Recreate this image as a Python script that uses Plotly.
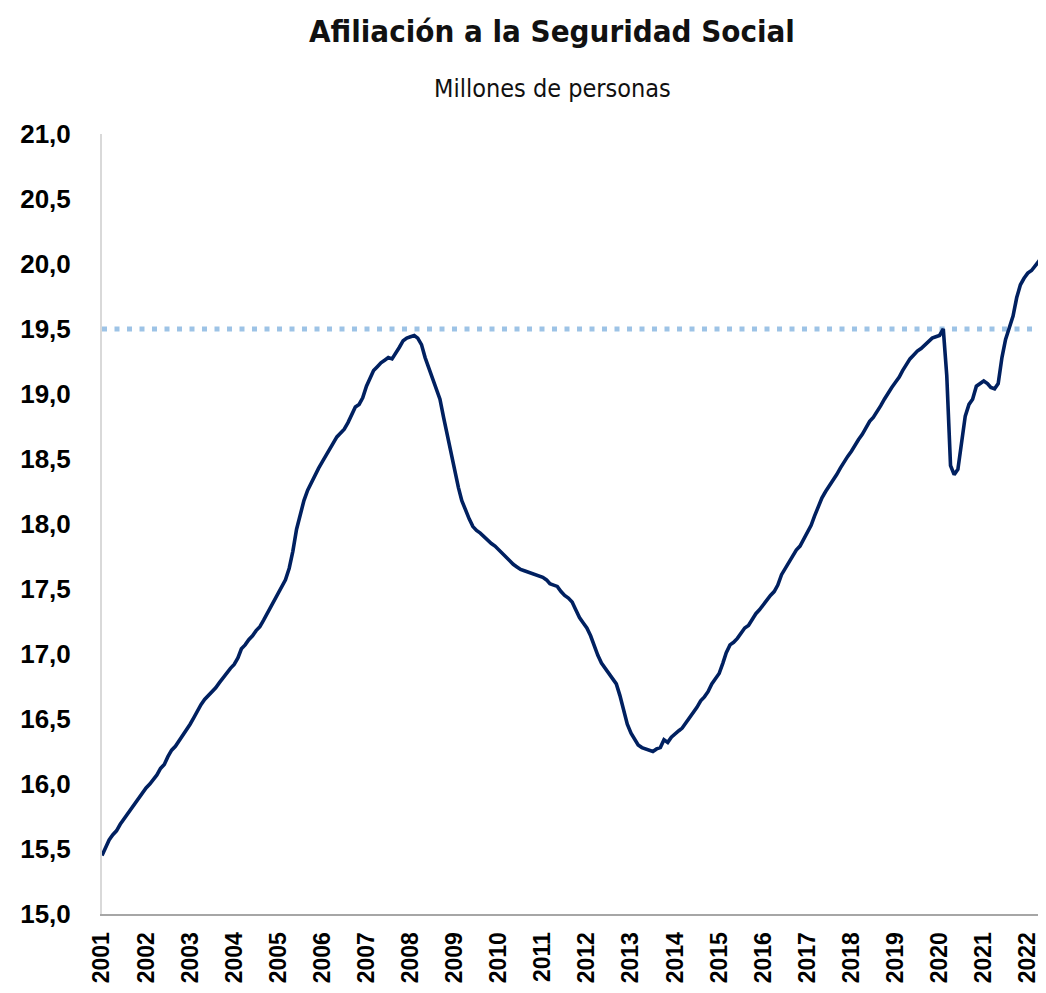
import pandas as pd
import plotly.graph_objects as go

# Monthly values (millions of people), Jan 2001 .. Jun 2022
y2001 = [15.45, 15.51, 15.57, 15.61, 15.64, 15.69, 15.73, 15.77, 15.81, 15.85, 15.90, 15.94]
y2002 = [15.97, 16.00, 16.03, 16.07, 16.12, 16.15, 16.21, 16.26, 16.29, 16.33, 16.37, 16.41]
y2003 = [16.46, 16.51, 16.56, 16.61, 16.65, 16.68, 16.71, 16.74, 16.78, 16.82, 16.85, 16.89]
y2004 = [16.92, 16.97, 17.04, 17.07, 17.11, 17.14, 17.18, 17.21, 17.26, 17.31, 17.36, 17.42]
y2005 = [17.47, 17.52, 17.57, 17.66, 17.79, 17.96, 18.08, 18.18, 18.26, 18.32, 18.38, 18.43]
y2006 = [18.48, 18.53, 18.58, 18.62, 18.67, 18.70, 18.73, 18.78, 18.85, 18.90, 18.92, 18.97]
y2007 = [19.06, 19.12, 19.18, 19.21, 19.24, 19.26, 19.28, 19.27, 19.31, 19.36, 19.41, 19.43]
y2008 = [19.44, 19.45, 19.43, 19.38, 19.28, 19.20, 19.13, 19.06, 18.96, 18.82, 18.68, 18.55]
y2009 = [18.40, 18.28, 18.18, 18.10, 18.04, 17.98, 17.95, 17.93, 17.90, 17.87, 17.85, 17.83]
y2010 = [17.80, 17.77, 17.74, 17.71, 17.69, 17.67, 17.65, 17.64, 17.63, 17.62, 17.61, 17.60]
y2011 = [17.59, 17.57, 17.54, 17.53, 17.52, 17.48, 17.45, 17.43, 17.40, 17.34, 17.28, 17.24]
y2012 = [17.20, 17.14, 17.06, 16.99, 16.93, 16.89, 16.86, 16.82, 16.77, 16.68, 16.58, 16.46]
y2013 = [16.39, 16.34, 16.30, 16.28, 16.27, 16.26, 16.25, 16.27, 16.28, 16.34, 16.32, 16.36]
y2014 = [16.39, 16.41, 16.43, 16.47, 16.51, 16.55, 16.59, 16.64, 16.67, 16.71, 16.77, 16.81]
y2015 = [16.85, 16.93, 17.01, 17.07, 17.09, 17.12, 17.16, 17.20, 17.22, 17.27, 17.31, 17.34]
y2016 = [17.38, 17.41, 17.45, 17.48, 17.53, 17.61, 17.66, 17.70, 17.75, 17.80, 17.83, 17.88]
y2017 = [17.93, 17.99, 18.06, 18.14, 18.20, 18.25, 18.29, 18.33, 18.38, 18.43, 18.48, 18.52]
y2018 = [18.56, 18.61, 18.65, 18.69, 18.74, 18.79, 18.82, 18.86, 18.91, 18.96, 19.01, 19.05]
y2019 = [19.09, 19.13, 19.18, 19.23, 19.27, 19.30, 19.33, 19.35, 19.38, 19.41, 19.43, 19.44]
y2020 = [19.45, 19.50, 19.14, 18.45, 18.38, 18.42, 18.63, 18.83, 18.92, 18.96, 19.06, 19.08]
y2021 = [19.10, 19.08, 19.05, 19.04, 19.08, 19.28, 19.42, 19.51, 19.60, 19.74, 19.84, 19.89]
y2022 = [19.93, 19.95, 19.98, 20.02, 20.06, 20.13]

values = (y2001 + y2002 + y2003 + y2004 + y2005 + y2006 + y2007 + y2008 + y2009 +
          y2010 + y2011 + y2012 + y2013 + y2014 + y2015 + y2016 + y2017 + y2018 +
          y2019 + y2020 + y2021 + y2022)
dates = pd.date_range("2001-01-01", periods=len(values), freq="MS")

reference_level = 19.5
y_ticks = [15.0, 15.5, 16.0, 16.5, 17.0, 17.5, 18.0, 18.5, 19.0, 19.5, 20.0, 20.5, 21.0]

title_text = "Afiliación a la Seguridad Social"
subtitle_text = "Millones de personas"

# the page body adds an 8px margin on every side, so the figure is kept inside it
W, H = 1038, 977
ML, MR, MT, MB = 94, 0, 126, 71
PW, PH = W - ML - MR, H - MT - MB

fig = go.Figure()
fig.add_trace(go.Scatter(
    x=dates, y=values, mode="lines",
    line=dict(color="#002060", width=3.6),
    hoverinfo="skip", showlegend=False, cliponaxis=False,
))

fig.add_shape(type="line", xref="paper", x0=0, x1=1, yref="y",
              y0=reference_level, y1=reference_level,
              line=dict(color="#9DC3E6", width=5, dash="5px,7.5px"),
              layer="below")

narrow = "DejaVu Sans Condensed, sans-serif"

fig.add_annotation(text="<b>" + title_text + "</b>", xref="paper", yref="paper",
                   x=(544 - ML) / PW, y=1 + (MT - 23) / PH,
                   xanchor="center", yanchor="middle", showarrow=False,
                   font=dict(family=narrow, size=31, color="#111111"))
fig.add_annotation(text=subtitle_text, xref="paper", yref="paper",
                   x=(544 - ML) / PW, y=1 + (MT - 80) / PH,
                   xanchor="center", yanchor="middle", showarrow=False,
                   font=dict(family=narrow, size=25, color="#111111"))

fig.update_layout(
    width=W, height=H,
    margin=dict(l=ML, r=MR, t=MT, b=MB, pad=0, autoexpand=False),
    paper_bgcolor="white", plot_bgcolor="white",
    separators=",.",
    showlegend=False,
)
fig.update_xaxes(
    range=[dates[0], dates[-1]],
    tick0="2001-01-01", dtick="M12", tickformat="%Y",
    tickangle=-90, ticks="", automargin=False,
    tickfont=dict(family="Liberation Sans, Arial, sans-serif", size=23,
                  color="black", weight="bold"),
    ticklabelstandoff=7,
    showgrid=False, zeroline=False,
    showline=True, linecolor="#A6A6A6", linewidth=2,
)
fig.update_yaxes(
    range=[15, 21], tickvals=y_ticks, tickformat=".1f", ticks="", automargin=False,
    tickfont=dict(family="Liberation Sans, Arial, sans-serif", size=26,
                  color="black", weight="bold"),
    ticklabelstandoff=24,
    showgrid=False, zeroline=False,
    showline=True, linecolor="#D9D9D9", linewidth=2,
)

fig.write_html("out.html")
